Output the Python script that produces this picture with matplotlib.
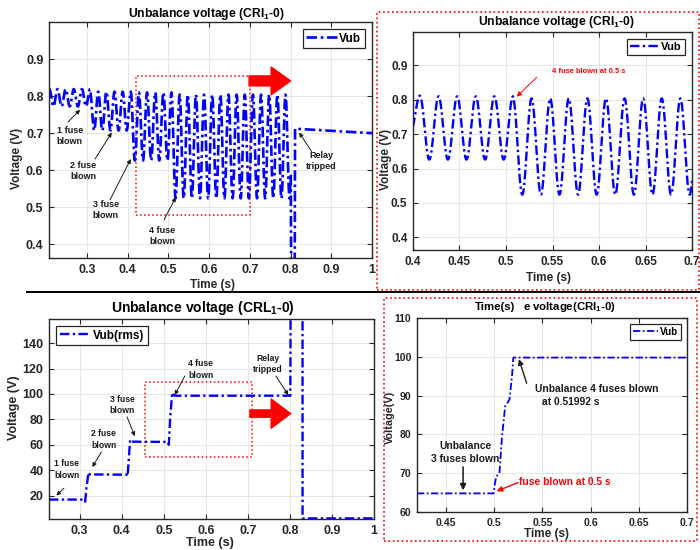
import numpy as np
import matplotlib
matplotlib.use("Agg")
import matplotlib.pyplot as plt
from matplotlib.patches import Rectangle
from matplotlib.lines import Line2D

# instantaneous unbalance voltage: one stage per number of blown fuses,
# each stage is a 50 Hz ripple between a low and a high value
stage_start = [0.2066, 0.3075, 0.4075, 0.5075]
stage_end = [0.3075, 0.4075, 0.5075, 0.7975]
stage_low = [0.772, 0.707, 0.626, 0.524]
stage_high = [0.819, 0.812, 0.810, 0.804]
ripple_hz = 50
ripple_peak_at = 0.0075
# relay trip and after
trip_time = [0.7975, 0.8005, 0.8025, 0.8095, 0.811, 1.0]
trip_volt = [0.524, 0.59, 0.0, 0.0, 0.712, 0.70]

# rms unbalance voltage (bottom left)
rms_time = [0.227, 0.311, 0.313, 0.316, 0.321, 0.324, 0.412, 0.414, 0.417, 0.42, 0.423,
            0.509, 0.512, 0.515, 0.52, 0.523, 0.526, 0.801, 0.802, 0.83, 0.8301, 1.0]
rms_volt = [16.8, 16.8, 15.2, 26, 38.2, 36.6, 36.4, 35.2, 50, 63.8, 62.4,
            62.2, 60.0, 80, 101, 99.2, 98.6, 98.6, 200, 200, 2.0, 2.0]

# rms zoom around the 4th fuse (bottom right)
zoom_time = [0.42, 0.4995, 0.5005, 0.502, 0.5055, 0.508, 0.5114, 0.5135, 0.5159, 0.5185, 0.5199, 0.7]
zoom_volt = [64.8, 64.8, 66.8, 69.1, 70.0, 79.0, 87.2, 88.0, 89.0, 95.0, 99.8, 99.8]

top_xticks = [0.3, 0.4, 0.5, 0.6, 0.7, 0.8, 0.9, 1.0]
top_xlabels = ["0.3", "0.4", "0.5", "0.6", "0.7", "0.8", "0.9", "1"]
zoom_xticks = [0.4, 0.45, 0.5, 0.55, 0.6, 0.65, 0.7]
zoom_xlabels = ["0.4", "0.45", "0.5", "0.55", "0.6", "0.65", "0.7"]
rms_zoom_xticks = [0.45, 0.5, 0.55, 0.6, 0.65, 0.7]
rms_zoom_xlabels = ["0.45", "0.5", "0.55", "0.6", "0.65", "0.7"]

plt.rcParams["font.family"] = ["Liberation Sans", "DejaVu Sans"]
plt.rcParams["font.weight"] = "bold"
plt.rcParams["axes.labelweight"] = "bold"
plt.rcParams["mathtext.default"] = "regular"

BLUE = "#0000ff"
DARK = "#262626"
DASHDOT = (0, (4, 1.4, 1, 1.4))


def build_vub():
    ts, vs = [], []
    for t0, t1, lo, hi in zip(stage_start, stage_end, stage_low, stage_high):
        t = np.linspace(t0, t1, int((t1 - t0) / 2e-4) + 1)
        v = (hi + lo) / 2 + (hi - lo) / 2 * np.cos(2 * np.pi * ripple_hz * (t - ripple_peak_at))
        ts.append(t)
        vs.append(v)
    ts.append(np.array(trip_time))
    vs.append(np.array(trip_volt))
    return np.concatenate(ts), np.concatenate(vs)


def style_axes(ax, xlim, ylim, xticks, xlabels, yticks, fs):
    ax.set_xlim(xlim)
    ax.set_ylim(ylim)
    ax.set_xticks(xticks)
    ax.set_xticklabels(xlabels)
    ax.set_yticks(yticks)
    ax.tick_params(direction="in", top=True, right=True, length=3.5, width=0.8,
                   labelsize=fs, colors=DARK, pad=4)
    ax.grid(True, color="#e2e2e2", lw=0.6)
    ax.set_axisbelow(True)
    for s in ax.spines.values():
        s.set_linewidth(1.0)
        s.set_color(DARK)


def add_legend(ax, loc, fs):
    leg = ax.legend(loc=loc, prop={"weight": "bold", "size": fs}, fancybox=False,
                    edgecolor=DARK, framealpha=1, handlelength=2.6, handletextpad=0.2,
                    borderpad=0.3, borderaxespad=0.6)
    leg.get_frame().set_linewidth(0.9)


def note(ax, text, txt_xy, tail, tip, fs=6.5, color="#1a1a1a", lw=0.7, ms=6, ha="center", ls=1.3):
    ax.annotate("", xy=tip, xytext=tail,
                arrowprops=dict(arrowstyle="-|>", color=color, lw=lw, mutation_scale=ms,
                                shrinkA=0, shrinkB=0))
    ax.text(txt_xy[0], txt_xy[1], text, ha=ha, va="center", fontsize=fs, color=color,
            fontweight="bold", linespacing=ls)


def big_arrow(ax, start, tip, hw, tw):
    ax.annotate("", xy=tip, xytext=start,
                arrowprops=dict(arrowstyle="simple,head_length=1.4,head_width=%s,tail_width=%s" % (hw, tw),
                                color="red", shrinkA=0, shrinkB=0, mutation_scale=10),
                annotation_clip=False)


vub_t, vub_v = build_vub()

fig = plt.figure(figsize=(7, 5.5), dpi=100)

# ---- top left ----
ax1 = fig.add_axes([49 / 700, 1 - 258 / 550, 323 / 700, 236 / 550])
ax1.plot(vub_t, vub_v, color=BLUE, lw=1.9, ls=DASHDOT, label="Vub")
style_axes(ax1, (0.2066, 1.0), (0.363, 1.0), top_xticks, top_xlabels,
           [0.4, 0.5, 0.6, 0.7, 0.8, 0.9], 9)
add_legend(ax1, "upper right", 8.5)
ax1.set_xlabel("Time (s)", fontsize=8.5, color=DARK)
ax1.set_ylabel("Voltage (V)", fontsize=8.5, color=DARK)
ax1.xaxis.set_label_coords(0.505, -0.088)
ax1.yaxis.set_label_coords(-0.08, 0.42)
ax1.add_patch(Rectangle((0.42, 0.48), 0.28, 0.373, fill=False, ec="red", ls=":", lw=1.1))
big_arrow(ax1, (0.698, 0.841), (0.8, 0.841), 2.0, 0.72)
note(ax1, "1 fuse\nblown", (0.2575, 0.693), (0.253, 0.730), (0.283, 0.763))
note(ax1, "2 fuse\nblown", (0.2907, 0.599), (0.3197, 0.630), (0.3607, 0.7016))
note(ax1, "3 fuse\nblown", (0.3462, 0.492), (0.3565, 0.520), (0.4074, 0.630))
note(ax1, "4 fuse\nblown", (0.4855, 0.423), (0.4892, 0.466), (0.518, 0.527))
note(ax1, "Relay\ntripped", (0.875, 0.6246), (0.852, 0.650), (0.821, 0.7016))
fig.text(206 / 700, 1 - 13.5 / 550, "Unbalance voltage (CRI$_1$-0)", ha="center", va="center",
         fontsize=8.7, fontweight="bold")

# ---- top right ----
ax2 = fig.add_axes([413 / 700, 1 - 250 / 550, 279 / 700, 218 / 550])
ax2.plot(vub_t, vub_v, color=BLUE, lw=1.7, ls=DASHDOT, label="Vub")
style_axes(ax2, (0.4, 0.7), (0.363, 0.997), zoom_xticks, zoom_xlabels,
           [0.4, 0.5, 0.6, 0.7, 0.8, 0.9], 8.5)
add_legend(ax2, "upper right", 8)
ax2.set_xlabel("Time (s)", fontsize=8.5, color=DARK)
ax2.set_ylabel("Voltage (V)", fontsize=8.5, color=DARK)
ax2.xaxis.set_label_coords(0.487, -0.099)
ax2.yaxis.set_label_coords(-0.076, 0.417)
note(ax2, "4 fuse blown at 0.5 s", (0.549, 0.881), (0.533, 0.865), (0.5115, 0.809),
     fs=5.4, color="red", ha="left", ms=7)
fig.text(556 / 700, 1 - 21.7 / 550, "Unbalance voltage (CRI$_1$-0)", ha="center", va="center",
         fontsize=8.7, fontweight="bold")

# ---- bottom left ----
ax3 = fig.add_axes([49 / 700, 1 - 519 / 550, 325 / 700, 200 / 550])
ax3.plot(rms_time, rms_volt, color=BLUE, lw=1.7, ls=DASHDOT, label="Vub(rms)")
style_axes(ax3, (0.227, 1.0), (1.5, 159), top_xticks, top_xlabels,
           [20, 40, 60, 80, 100, 120, 140], 9)
add_legend(ax3, "upper left", 8.5)
ax3.set_xlabel("Time (s)", fontsize=9, color=DARK)
ax3.set_ylabel("Voltage (V)", fontsize=9, color=DARK)
ax3.xaxis.set_label_coords(0.495, -0.088)
ax3.yaxis.set_label_coords(-0.089, 0.557)
ax3.add_patch(Rectangle((0.456, 50), 0.253, 59, fill=False, ec="red", ls=":", lw=1.1))
big_arrow(ax3, (0.7048, 84.5), (0.8017, 84.5), 2.1, 0.53)
note(ax3, "1 fuse\nblown", (0.269, 40.4), (0.2626, 25.8), (0.2445, 20), fs=6.2, ls=1.4)
note(ax3, "2 fuse\nblown", (0.3576, 64.1), (0.3516, 54.3), (0.330, 42.4), fs=6.2, ls=1.4)
note(ax3, "3 fuse\nblown", (0.4016, 91.2), (0.4126, 81.9), (0.431, 66.7), fs=6.2, ls=1.4)
note(ax3, "4 fuse\nblown", (0.5877, 119.5), (0.55, 114.1), (0.526, 99.1), fs=6.2, ls=1.4)
note(ax3, "Relay\ntripped", (0.7483, 123.5), (0.7667, 114.1), (0.796, 99.1), fs=6.2, ls=1.4)
fig.text(203 / 700, 1 - 307.7 / 550, "Unbalance voltage (CRL$_1$-0)", ha="center", va="center",
         fontsize=10, fontweight="bold")

# ---- bottom right ----
ax4 = fig.add_axes([417 / 700, 1 - 512 / 550, 270 / 700, 194 / 550])
ax4.plot(zoom_time, zoom_volt, color=BLUE, lw=1.3, ls=DASHDOT, label="Vub")
style_axes(ax4, (0.42, 0.7), (60, 110), rms_zoom_xticks, rms_zoom_xlabels,
           [60, 70, 80, 90, 100, 110], 7.6)
add_legend(ax4, "upper right", 7)
ax4.set_xlabel("Time (s)", fontsize=8.5, color=DARK)
ax4.set_ylabel("Voltage(V)", fontsize=7.8, color=DARK)
ax4.xaxis.set_label_coords(0.481, -0.082)
ax4.yaxis.set_label_coords(-0.082, 0.488)
note(ax4, "Unbalance\n3 fuses blown", (0.470, 75.3), (0.4678, 71.6), (0.4678, 65.6),
     fs=7.4, lw=1.1, ms=9, ls=1.35)
note(ax4, "fuse blown at 0.5 s", (0.5257, 67.8), (0.525, 67.6), (0.5025, 65.35),
     fs=7.4, color="red", lw=1.0, ms=8, ha="left")
note(ax4, "Unbalance 4 fuses blown", (0.5423, 91.7), (0.5337, 93.2), (0.5257, 99.4),
     fs=7.4, lw=1.0, ms=8, ha="left")
ax4.text(0.5493, 88.4, "at 0.51992 s", ha="left", va="center", fontsize=7.4,
         fontweight="bold", color="#1a1a1a")
fig.text(495 / 700, 1 - 307.3 / 550, "Time(s)", ha="center", va="center", fontsize=8.2,
         fontweight="bold")
fig.text(569.7 / 700, 1 - 307.3 / 550, "e voltage(CRI$_1$-0)", ha="center", va="center",
         fontsize=8.2, fontweight="bold")

# ---- frame decorations ----
fig.add_artist(Rectangle((377 / 700, 1 - 290 / 550), 322 / 700, 278.3 / 550, fill=False,
                         ec="red", ls=":", lw=1.2, transform=fig.transFigure))
fig.add_artist(Rectangle((384 / 700, 1 - 541 / 550), 312.7 / 700, 243 / 550, fill=False,
                         ec="red", ls=":", lw=1.2, transform=fig.transFigure))
fig.add_artist(Line2D([27 / 700, 1], [1 - 292 / 550] * 2, color="black", lw=1.4,
                      transform=fig.transFigure))

fig.savefig("out.png", dpi=100, facecolor="white")
